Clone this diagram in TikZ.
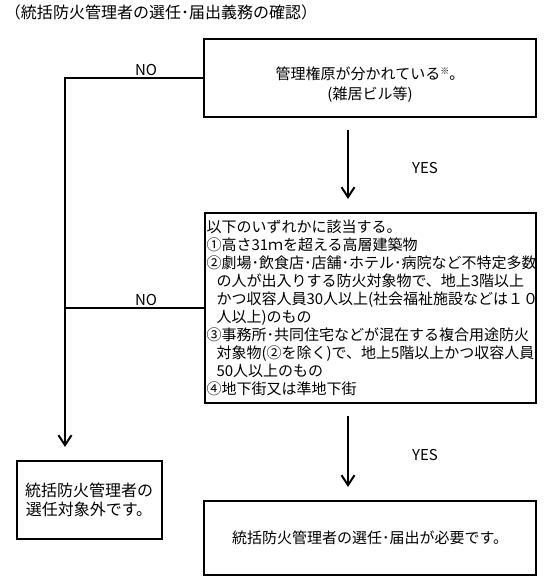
\documentclass[tikz,border=0pt]{standalone}
\usepackage{fontspec}
\setmainfont{Noto Sans CJK JP}
\usetikzlibrary{arrows.meta}

\begin{document}
\begin{tikzpicture}[x=1pt, y=-1pt, line width=2pt, font=\fontsize{15}{20}\selectfont,
    box/.style={draw, rectangle, inner sep=2pt, align=center},
    flow/.style={-{Straight Barb[length=10pt, width=13pt]}}]
    \useasboundingbox (0,0) rectangle (554,577);

    \node[anchor=west, inner sep=0pt, font=\fontsize{16}{20}\selectfont] at (4, 12) (title) {（統括防火管理者の選任･届出義務の確認）};

    \node[box, minimum width=332pt, minimum height=78pt] at (370, 78) (perm)
        {\rule{0pt}{25pt}管理権原が分かれている\raisebox{5pt}{\fontsize{9}{9}\selectfont ※}。\\(雑居ビル等)};

    \node[box, align=left, text width=327pt, minimum height=190pt, font=\fontsize{15}{18}\selectfont] at (370, 308) (crit)
        {以下のいずれかに該当する。\\
         ①高さ31ｍを超える高層建築物\\
         ②劇場･飲食店･店舗･ホテル･病院など不特定多数\\
         \hspace*{10pt}の人が出入りする防火対象物で、地上3階以上\\
         \hspace*{10pt}かつ収容人員30人以上(社会福祉施設などは１０\\
         \hspace*{10pt}人以上)のもの\\
         ③事務所･共同住宅などが混在する複合用途防火\\
         \hspace*{10pt}対象物(②を除く)で、地上5階以上かつ収容人員\\
         \hspace*{10pt}50人以上のもの\\
         ④地下街又は準地下街};

    \node[box, minimum width=145pt, minimum height=78pt, font=\fontsize{16}{19}\selectfont] at (89, 500) (outside)
        {統括防火管理者の\\選任対象外です。};

    \node[box, minimum width=332pt, minimum height=74pt] at (370, 538) (required)
        {統括防火管理者の選任･届出が必要です。};

    \coordinate (no end) at (65, 447);

    \node at (146, 70) (no 1) {NO};
    \node at (146, 300) (no 2) {NO};
    \node at (425, 168) (yes 1) {YES};
    \node at (425, 455) (yes 2) {YES};

    \draw[flow] (perm.west) -| (no end);
    \draw (crit.west) -- (crit.west -| no end);

    \draw[flow] ([xshift=-22pt, yshift=-12pt]perm.south) -- ([xshift=-22pt, yshift=13pt]crit.north);
    \draw[flow] ([xshift=-22pt, yshift=-12pt]crit.south) -- ([xshift=-22pt, yshift=13pt]required.north);

\end{tikzpicture}
\end{document}
